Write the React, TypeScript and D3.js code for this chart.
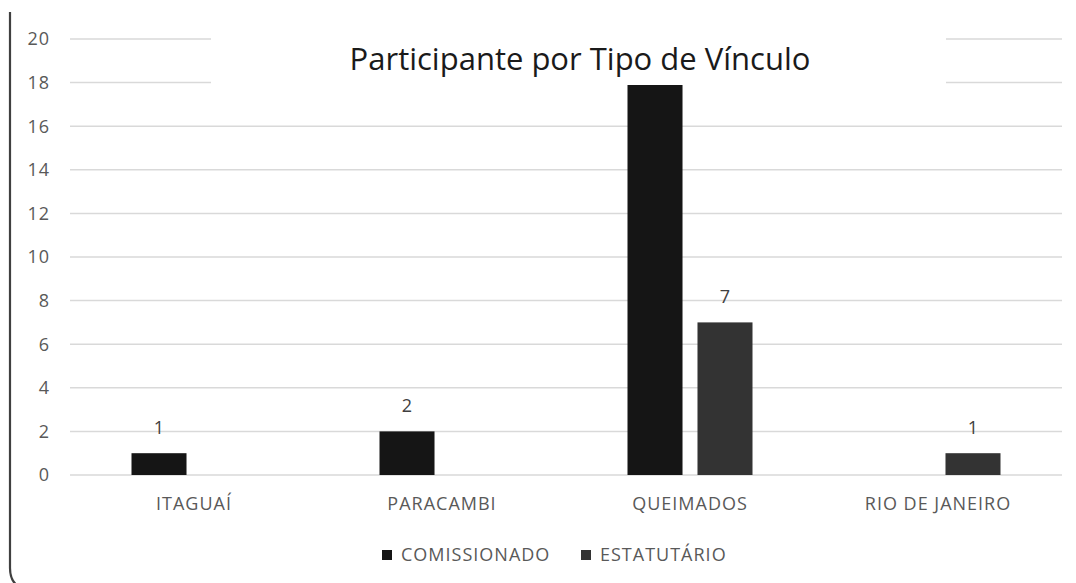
import React from "react";
import * as d3 from "d3";

const categories = ["ITAGUAÍ", "PARACAMBI", "QUEIMADOS", "RIO DE JANEIRO"];
const seriesNames = ["COMISSIONADO", "ESTATUTÁRIO"];
const comissionado = [1, 2, 18, 0];
const estatutario = [0, 0, 7, 1];
const yTicks = [0, 2, 4, 6, 8, 10, 12, 14, 16, 18, 20];
const title = "Participante por Tipo de Vínculo";

const colors = ["#151515", "#333333"];
const FONT = "'Open Sans', sans-serif";

export default function App() {
  const W = 1076;
  const H = 583;
  const left = 70;
  const right = 1062;
  const top = 39;
  const bottom = 475;
  const titleBox = { x: 211, y: 28, w: 735, h: 57 };

  const y = d3.scaleLinear().domain([0, 20]).range([bottom, top]);
  const x0 = d3.scaleBand<string>().domain(categories).range([left, right]).padding(0);
  const groupW = 125;
  const x1 = d3
    .scaleBand<string>()
    .domain(seriesNames)
    .range([0, groupW])
    .paddingInner(0.214)
    .paddingOuter(0);
  const series = [comissionado, estatutario];

  return (
    <svg
      width={W}
      height={H}
      style={{ position: "absolute", left: 0, top: 0, background: "#fff" }}
      fontFamily={FONT}
    >
      <rect x={0} y={0} width={W} height={H} fill="#fff" />
      {/* gridlines */}
      {yTicks.map((t) => (
        <line
          key={t}
          x1={left}
          x2={right}
          y1={y(t)}
          y2={y(t)}
          stroke="#d9d9d9"
          strokeWidth={1.5}
        />
      ))}
      {/* tick labels */}
      {yTicks.map((t) => (
        <text
          key={"l" + t}
          x={50}
          y={y(t)}
          dy="0.35em"
          textAnchor="end"
          fontSize={18}
          letterSpacing={1}
          fill="#595959"
        >
          {t}
        </text>
      ))}
      {/* bars */}
      {categories.map((c, ci) => {
        const gx = x0(c)! + x0.bandwidth() / 2 - groupW / 2;
        return series.map((s, si) => {
          const v = s[ci];
          if (!v) return null;
          const bx = gx + x1(seriesNames[si])!;
          const ly = y(v) - 26;
          const hidden = ly < titleBox.y + titleBox.h && ly > titleBox.y;
          return (
            <g key={c + si}>
              <rect
                x={bx}
                y={y(v)}
                width={x1.bandwidth()}
                height={y(0) - y(v)}
                fill={colors[si]}
              />
              {!hidden && (
                <text
                  x={bx + x1.bandwidth() / 2}
                  y={ly}
                  dy="0.35em"
                  textAnchor="middle"
                  fontSize={18}
                  fill="#404040"
                >
                  {v}
                </text>
              )}
            </g>
          );
        });
      })}
      {/* title box */}
      <rect
        x={titleBox.x}
        y={titleBox.y}
        width={titleBox.w}
        height={titleBox.h}
        fill="#fff"
      />
      <text x={580} y={70} textAnchor="middle" fontSize={31} fill="#1a1a1a">
        {title}
      </text>
      {/* category labels */}
      {categories.map((c) => (
        <text
          key={"c" + c}
          x={x0(c)! + x0.bandwidth() / 2}
          y={504}
          dy="0.35em"
          textAnchor="middle"
          fontSize={18}
          letterSpacing={1}
          fill="#595959"
        >
          {c}
        </text>
      ))}
      {/* legend */}
      {[382, 581].map((lx, i) => (
        <g key={"lg" + i}>
          <rect x={lx} y={550} width={10} height={10} fill={colors[i]} />
          <text
            x={lx + 19}
            y={555}
            dy="0.35em"
            fontSize={18}
            letterSpacing={1}
            fill="#595959"
          >
            {seriesNames[i]}
          </text>
        </g>
      ))}
      {/* frame */}
      <path
        d="M10,12 L10,568 Q10,588 30,590"
        fill="none"
        stroke="#404040"
        strokeWidth={2.2}
      />
    </svg>
  );
}
